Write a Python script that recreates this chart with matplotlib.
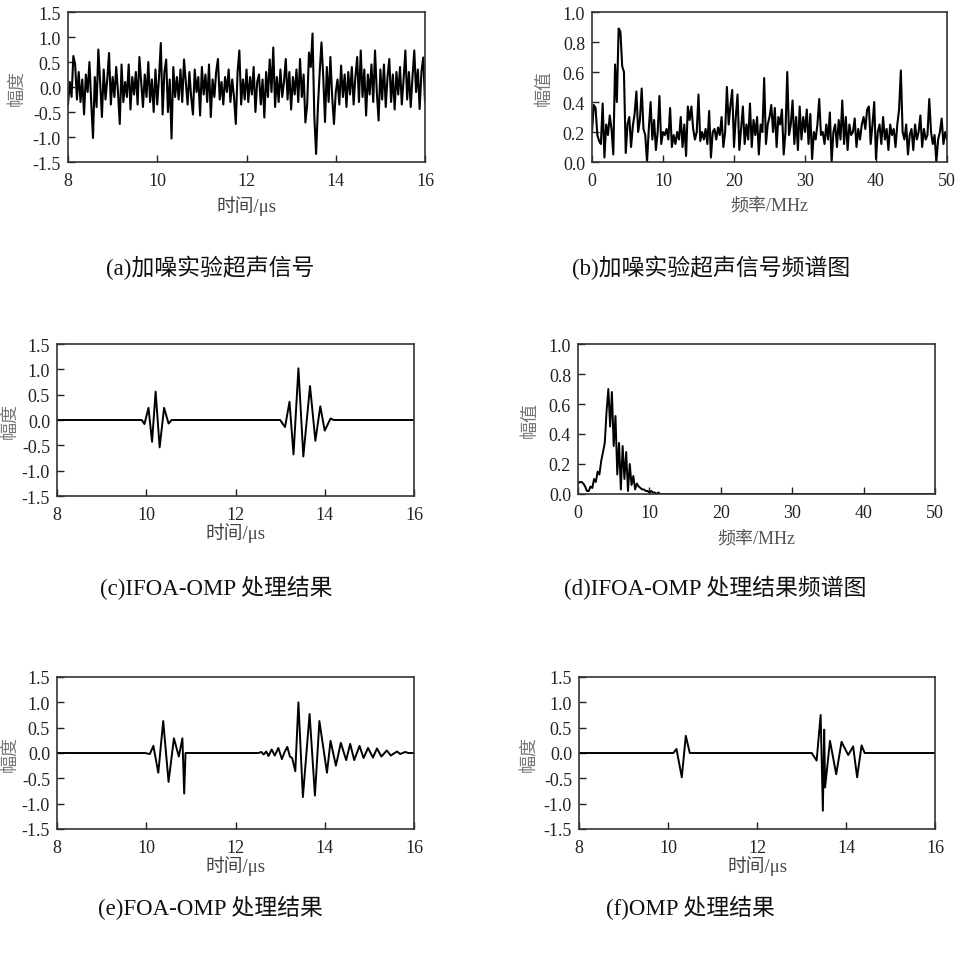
import numpy as np
import matplotlib.pyplot as plt
from matplotlib.ticker import FormatStrFormatter

plt.rcParams['font.family'] = ['Liberation Serif', 'Noto Sans CJK SC']
plt.rcParams['axes.unicode_minus'] = False

# (a) noisy ultrasonic signal, one sample every 0.04 us from 8 to 16 us
t_a_start, t_a_end = 8.0, 16.0
amp_a = [
    -0.35, 0.10, -0.20, 0.62, 0.45, -0.25, 0.30, -0.30, 0.15, -0.55,
    0.25, -0.10, 0.50, -0.30, -1.02, 0.20, -0.40, 0.75, 0.10, -0.60,
    0.35, -0.25, 0.15, 0.68, -0.35, 0.20, -0.20, 0.40, -0.10, -0.74,
    0.45, -0.30, 0.10, -0.20, 0.45, -0.45, 0.20, -0.15, 0.30, -0.35,
    0.60, 0.10, -0.40, 0.25, -0.20, 0.50, -0.30, 0.15, -0.50, 0.35,
    -0.35, 0.20, 0.88, -0.55, 0.30, 0.55, -0.50, 0.15, -1.03, 0.40,
    -0.20, 0.20, -0.25, 0.35, -0.30, 0.55, 0.10, -0.35, 0.30, -0.20,
    -0.55, 0.35, -0.10, 0.20, -0.57, 0.40, -0.15, 0.25, -0.30, 0.45,
    -0.60, 0.15, -0.20, 0.30, 0.56, -0.25, 0.10, -0.35, 0.20, -0.10,
    0.35, -0.30, 0.15, -0.20, -0.74, 0.30, 0.73, -0.35, 0.15, -0.25,
    0.35, -0.30, 0.20, -0.15, 0.40, -0.50, 0.10, 0.25, -0.35, 0.15,
    -0.61, 0.30, -0.20, 0.55, -0.10, 0.79, -0.40, 0.20, -0.30, 0.35,
    -0.20, 0.10, 0.56, -0.25, 0.30, -0.45, 0.20, -0.15, 0.35, -0.30,
    0.56, -0.20, 0.25, -0.71, -0.35, 0.69, 0.40, 1.07, -0.60, -1.34,
    -0.40, 0.30, 0.89, 0.20, -0.70, 0.40, -0.30, 0.60, -0.20, -0.74,
    -0.10, 0.15, -0.35, 0.43, -0.20, 0.25, -0.40, 0.30, -0.15, 0.40,
    -0.35, 0.20, 0.60, -0.30, 0.73, -0.20, 0.35, -0.57, 0.25, -0.15,
    0.45, -0.30, 0.73, -0.10, -0.67, 0.35, -0.25, 0.45, -0.40, 0.20,
    0.56, -0.30, 0.25, -0.45, 0.30, -0.15, 0.40, -0.35, 0.15, 0.73,
    -0.25, 0.30, -0.40, 0.20, 0.73, -0.10, 0.35, -0.44, 0.30, 0.59,
    -0.30,
]

# (b) spectrum of the noisy signal, one value every 0.25 MHz from 0 to 50 MHz
f_b_start, f_b_end = 0.0, 50.0
spec_b = [
    0.20, 0.38, 0.36, 0.18, 0.14, 0.12, 0.39, 0.03, 0.25, 0.18,
    0.31, 0.22, 0.05, 0.65, 0.40, 0.89, 0.87, 0.64, 0.60, 0.06,
    0.25, 0.30, 0.10, 0.24, 0.32, 0.47, 0.20, 0.28, 0.49, 0.22,
    0.18, 0.00, 0.22, 0.40, 0.15, 0.28, 0.08, 0.20, 0.44, 0.12,
    0.20, 0.18, 0.22, 0.15, 0.36, 0.10, 0.18, 0.12, 0.20, 0.15,
    0.30, 0.10, 0.25, 0.04, 0.37, 0.28, 0.37, 0.22, 0.15, 0.20,
    0.45, 0.14, 0.20, 0.15, 0.22, 0.12, 0.34, 0.03, 0.20, 0.22,
    0.15, 0.23, 0.18, 0.30, 0.10, 0.20, 0.50, 0.25, 0.38, 0.48,
    0.10, 0.30, 0.45, 0.08, 0.22, 0.37, 0.12, 0.25, 0.15, 0.39,
    0.10, 0.28, 0.18, 0.30, 0.05, 0.25, 0.20, 0.56, 0.12, 0.25,
    0.30, 0.38, 0.20, 0.36, 0.10, 0.30, 0.25, 0.35, 0.05, 0.20,
    0.60, 0.18, 0.25, 0.41, 0.12, 0.30, 0.08, 0.37, 0.15, 0.30,
    0.20, 0.35, 0.12, 0.32, 0.02, 0.20, 0.15, 0.25, 0.42, 0.18,
    0.20, 0.12, 0.25, 0.15, 0.33, 0.00, 0.20, 0.25, 0.10, 0.28,
    0.15, 0.41, 0.12, 0.30, 0.08, 0.25, 0.18, 0.20, 0.29, 0.10,
    0.22, 0.15, 0.25, 0.30, 0.22, 0.35, 0.37, 0.12, 0.25, 0.40,
    0.02, 0.20, 0.25, 0.12, 0.30, 0.15, 0.22, 0.08, 0.25, 0.18,
    0.22, 0.10, 0.25, 0.35, 0.61, 0.20, 0.15, 0.25, 0.05, 0.18,
    0.22, 0.08, 0.25, 0.15, 0.20, 0.31, 0.10, 0.22, 0.15, 0.18,
    0.42, 0.20, 0.12, 0.18, 0.00, 0.15, 0.20, 0.29, 0.12, 0.20,
    0.15,
]

# (c) IFOA-OMP result: key points (time in us, amplitude)
t_c = [8.0, 9.90, 9.96, 10.05, 10.13, 10.21, 10.30, 10.40, 10.50, 10.57,
       13.00, 13.11, 13.21, 13.30, 13.41, 13.52, 13.67, 13.79, 13.90, 14.00,
       14.13, 14.20, 16.0]
amp_c = [0.0, 0.0, -0.08, 0.24, -0.43, 0.56, -0.54, 0.24, -0.07, 0.0,
         0.0, -0.14, 0.36, -0.68, 1.02, -0.72, 0.67, -0.41, 0.27, -0.21,
         0.03, 0.0, 0.0]

# (d) spectrum of IFOA-OMP result, every 0.25 MHz up to 12 MHz, then flat
f_d_start, f_d_end = 0.0, 12.0
spec_d = [
    0.07, 0.08, 0.08, 0.07, 0.05, 0.02, 0.02, 0.05, 0.04, 0.10,
    0.08, 0.15, 0.13, 0.22, 0.28, 0.34, 0.55, 0.70, 0.45, 0.68,
    0.32, 0.52, 0.13, 0.34, 0.03, 0.32, 0.10, 0.28, 0.02, 0.20,
    0.06, 0.12, 0.03, 0.07, 0.05, 0.04, 0.03, 0.03, 0.02, 0.02,
    0.01, 0.02, 0.01, 0.01, 0.00, 0.01, 0.00, 0.00, 0.00,
]
f_d_tail = [50.0]
spec_d_tail = [0.0]

# (e) FOA-OMP result
t_e = [8.0, 9.97, 10.08, 10.16, 10.27, 10.38, 10.50, 10.62, 10.73, 10.81,
       10.85, 10.88, 12.51, 12.58, 12.63, 12.69, 12.74, 12.81, 12.88, 12.96,
       13.04, 13.10, 13.16, 13.22, 13.27, 13.34, 13.41, 13.51, 13.66, 13.78,
       13.88, 14.05, 14.13, 14.25, 14.36, 14.48, 14.57, 14.66, 14.78, 14.87,
       14.97, 15.08, 15.17, 15.27, 15.39, 15.48, 15.62, 15.69, 15.80, 15.88,
       16.0]
amp_e = [0.0, 0.0, -0.02, 0.14, -0.39, 0.63, -0.57, 0.29, -0.07, 0.29,
         -0.80, 0.0, 0.0, 0.02, -0.03, 0.03, -0.06, 0.07, -0.05, 0.10,
         -0.12, 0.02, 0.12, -0.07, -0.10, -0.36, 1.00, -0.87, 0.77, -0.84,
         0.63, -0.39, 0.24, -0.25, 0.20, -0.14, 0.18, -0.14, 0.14, -0.10,
         0.10, -0.09, 0.09, -0.07, 0.05, -0.05, 0.03, -0.02, 0.02, 0.0,
         0.0]

# (f) OMP result
t_f = [8.0, 10.12, 10.19, 10.31, 10.40, 10.49, 13.23, 13.34, 13.43, 13.48,
       13.51, 13.53, 13.64, 13.78, 13.90, 14.05, 14.16, 14.25, 14.35, 14.42,
       16.0]
amp_f = [0.0, 0.0, 0.08, -0.48, 0.34, 0.0, 0.0, -0.15, 0.75, -1.14,
         0.46, -0.68, 0.24, -0.42, 0.22, -0.04, 0.13, -0.48, 0.15, 0.0,
         0.0]

captions = ['(a)加噪实验超声信号', '(b)加噪实验超声信号频谱图',
            '(c)IFOA-OMP 处理结果', '(d)IFOA-OMP 处理结果频谱图',
            '(e)FOA-OMP 处理结果', '(f)OMP 处理结果']

t_a = np.linspace(t_a_start, t_a_end, len(amp_a))
f_b = np.linspace(f_b_start, f_b_end, len(spec_b))
f_d = list(np.linspace(f_d_start, f_d_end, len(spec_d))) + f_d_tail
spec_d_all = spec_d + spec_d_tail

W, H = 957, 962
fig = plt.figure(figsize=(W / 100, H / 100), dpi=100)


def px_axes(x0, x1, y0, y1):
    return fig.add_axes([x0 / W, 1 - y1 / H, (x1 - x0) / W, (y1 - y0) / H])


def style(ax, kind, ylab_x, xlab_y):
    ax.tick_params(direction='in', length=5, width=1, labelsize=13,
                   colors='#222', top=False, right=False)
    ax.tick_params(axis='x', pad=7)
    ax.tick_params(axis='y', pad=5)
    for s in ax.spines.values():
        s.set_linewidth(1.2)
        s.set_color('#333')
    ax.yaxis.set_major_formatter(FormatStrFormatter('%.1f'))
    if kind == 'time':
        ax.set_xlim(8, 16)
        ax.set_ylim(-1.5, 1.5)
        ax.set_xticks([8, 10, 12, 14, 16])
        ax.set_yticks([-1.5, -1.0, -0.5, 0.0, 0.5, 1.0, 1.5])
        ax.set_xlabel('时间/μs', fontsize=13.5, color='#444')
        ax.set_ylabel('幅度', fontsize=13, color='#777')
    else:
        ax.set_xlim(0, 50)
        ax.set_ylim(0, 1.0)
        ax.set_xticks([0, 10, 20, 30, 40, 50])
        ax.set_yticks([0.0, 0.2, 0.4, 0.6, 0.8, 1.0])
        ax.set_xlabel('频率/MHz', fontsize=13, color='#555')
        ax.set_ylabel('幅值', fontsize=13, color='#777')
    ax.yaxis.set_label_coords(ylab_x, 0.5)
    ax.yaxis.label.set_va('center')
    ax.xaxis.set_label_coords(0.5, xlab_y)
    ax.xaxis.label.set_va('center')


ax_a = px_axes(68, 425, 13, 163)
ax_a.plot(t_a, amp_a, color='black', lw=1.5)
style(ax_a, 'time', -0.143, -0.287)

ax_b = px_axes(592, 947, 13, 163)
ax_b.plot(f_b, spec_b, color='black', lw=1.5)
style(ax_b, 'freq', -0.135, -0.293)

ax_c = px_axes(57, 414, 345, 497)
ax_c.plot(t_c, amp_c, color='black', lw=1.4)
style(ax_c, 'time', -0.132, -0.237)

ax_d = px_axes(578, 935, 345, 495)
ax_d.plot(f_d, spec_d_all, color='black', lw=1.4)
style(ax_d, 'freq', -0.134, -0.30)

ax_e = px_axes(57, 414, 678, 830)
ax_e.plot(t_e, amp_e, color='black', lw=1.4)
style(ax_e, 'time', -0.132, -0.237)

ax_f = px_axes(579, 935, 678, 830)
ax_f.plot(t_f, amp_f, color='black', lw=1.4)
style(ax_f, 'time', -0.14, -0.237)

cap_pos = [(210, 268), (711, 268), (216, 588), (715, 588), (210, 908), (690, 908)]
for text, (cx, cy) in zip(captions, cap_pos):
    fig.text(cx / W, 1 - cy / H, text, ha='center', va='center',
             fontsize=16.5, color='#111')

fig.savefig('out.png', dpi=100)
